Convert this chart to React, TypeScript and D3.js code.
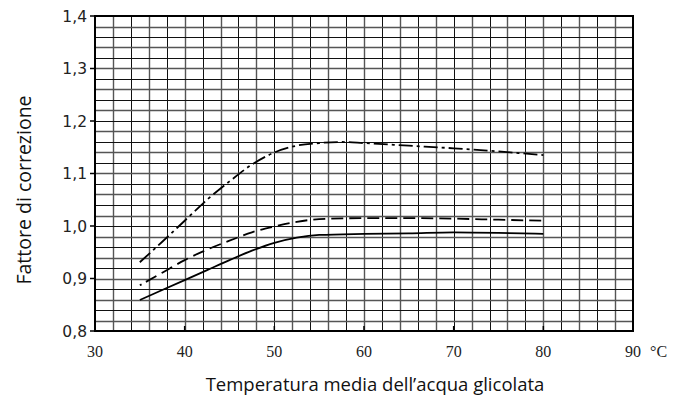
import React, { useEffect, useRef } from "react";
import * as d3 from "d3";

// temperature (°C) -> correction factor
const tempsSolid = [35, 37.5, 40, 42.5, 45, 47.5, 50, 52.5, 55, 60, 65, 70, 75, 80];
const valuesSolid = [0.859, 0.878, 0.897, 0.916, 0.935, 0.953, 0.968, 0.978, 0.983, 0.985, 0.986, 0.988, 0.987, 0.985];

const tempsDashed = [35, 37.5, 40, 42.5, 45, 47.5, 50, 52.5, 55, 60, 65, 70, 75, 80];
const valuesDashed = [0.887, 0.911, 0.935, 0.955, 0.972, 0.988, 0.999, 1.008, 1.013, 1.015, 1.015, 1.014, 1.012, 1.01];

const tempsDashDot = [35, 37.5, 40, 42.5, 45, 47.5, 50, 52.5, 55, 57.5, 60, 65, 70, 75, 80];
const valuesDashDot = [0.931, 0.97, 1.01, 1.05, 1.085, 1.117, 1.14, 1.153, 1.158, 1.16, 1.158, 1.153, 1.148, 1.142, 1.135];

const xTicks = [30, 40, 50, 60, 70, 80, 90];
const yTicks = [0.8, 0.9, 1.0, 1.1, 1.2, 1.3, 1.4];

const W = 674;
const H = 398;

export default function App() {
  const ref = useRef<SVGSVGElement>(null);

  useEffect(() => {
    const svg = d3.select(ref.current);
    svg.selectAll("*").remove();

    const left = 95, right = 633, top = 16, bottom = 331;
    const x = d3.scaleLinear().domain([30, 90]).range([left, right]);
    const y = d3.scaleLinear().domain([0.8, 1.4]).range([bottom, top]);

    svg.append("rect").attr("width", W).attr("height", H).attr("fill", "white");

    // grid
    const g = svg.append("g");
    const xMinor = d3.range(30, 90.001, 2);
    const yMinor = d3.range(0, 31).map((i) => 0.8 + i * 0.02);
    g.selectAll(".vx")
      .data(xMinor)
      .join("line")
      .attr("x1", (d) => Math.round(x(d)) + 0.5)
      .attr("x2", (d) => Math.round(x(d)) + 0.5)
      .attr("y1", top)
      .attr("y2", bottom)
      .attr("stroke", (d, i) => (i % 2 ? "#555" : "#111"))
      .attr("stroke-width", (d, i) => (i % 2 ? 1.4 : 1));
    g.selectAll(".hy")
      .data(yMinor)
      .join("line")
      .attr("x1", left)
      .attr("x2", right)
      .attr("y1", (d) => Math.round(y(d)) + 0.5)
      .attr("y2", (d) => Math.round(y(d)) + 0.5)
      .attr("stroke", (d, i) => (i % 2 ? "#555" : "#111"))
      .attr("stroke-width", (d, i) => (i % 2 ? 1.4 : 1));

    // frame
    svg.append("rect")
      .attr("x", left)
      .attr("y", top)
      .attr("width", right - left)
      .attr("height", bottom - top)
      .attr("fill", "none")
      .attr("stroke", "#000")
      .attr("stroke-width", 2);

    // y ticks
    svg.append("g")
      .selectAll("line")
      .data(yTicks)
      .join("line")
      .attr("x1", left - 5)
      .attr("x2", left)
      .attr("y1", (d) => y(d))
      .attr("y2", (d) => y(d))
      .attr("stroke", "#000")
      .attr("stroke-width", 1.5);
    // x ticks (inside)
    svg.append("g")
      .selectAll("line")
      .data(xTicks)
      .join("line")
      .attr("x1", (d) => x(d))
      .attr("x2", (d) => x(d))
      .attr("y1", bottom)
      .attr("y2", bottom - 5)
      .attr("stroke", "#000")
      .attr("stroke-width", 1.5);

    svg.append("g")
      .selectAll("text")
      .data(yTicks)
      .join("text")
      .attr("x", left - 8)
      .attr("y", (d) => y(d) + 5.5)
      .attr("text-anchor", "end")
      .style("font", "15.5px 'DejaVu Sans'")
      .attr("fill", "#222")
      .text((d) => d3.format(".1f")(d).replace(".", ","));

    svg.append("g")
      .selectAll("text")
      .data(xTicks)
      .join("text")
      .attr("x", (d) => x(d))
      .attr("y", 357)
      .attr("text-anchor", "middle")
      .style("font", "16px 'Liberation Serif'")
      .attr("fill", "#222")
      .text((d) => d);
    svg.append("text")
      .attr("x", 650)
      .attr("y", 357)
      .style("font", "16px 'Liberation Serif'")
      .attr("fill", "#222")
      .text("°C");

    // titles
    svg.append("text")
      .attr("x", 375)
      .attr("y", 391)
      .attr("text-anchor", "middle")
      .style("font", "18.5px 'Open Sans'")
      .attr("fill", "#111")
      .text("Temperatura media dell’acqua glicolata");
    svg.append("text")
      .attr("transform", "translate(31,190) rotate(-90)")
      .attr("text-anchor", "middle")
      .style("font", "19.5px 'Open Sans'")
      .attr("fill", "#111")
      .text("Fattore di correzione");

    // curves
    const line = d3
      .line<[number, number]>()
      .x((d) => x(d[0]))
      .y((d) => y(d[1]))
      .curve(d3.curveMonotoneX);
    // dashed curve starts with a single dot, then regular dashes
    const dashedPattern = "2,5," + d3.range(40).map(() => "12,6").join(",");
    const series = [
      { t: tempsSolid, v: valuesSolid, dash: null },
      { t: tempsDashed, v: valuesDashed, dash: dashedPattern },
      { t: tempsDashDot, v: valuesDashDot, dash: "14,4,3,4" },
    ];
    series.forEach((s) => {
      svg.append("path")
        .datum(s.t.map((t, i) => [t, s.v[i]] as [number, number]))
        .attr("d", line)
        .attr("fill", "none")
        .attr("stroke", "#000")
        .attr("stroke-width", 1.8)
        .attr("stroke-dasharray", s.dash);
    });
  }, []);

  return (
    <svg
      ref={ref}
      width={W}
      height={H}
      style={{ position: "absolute", left: 0, top: 0 }}
    />
  );
}
